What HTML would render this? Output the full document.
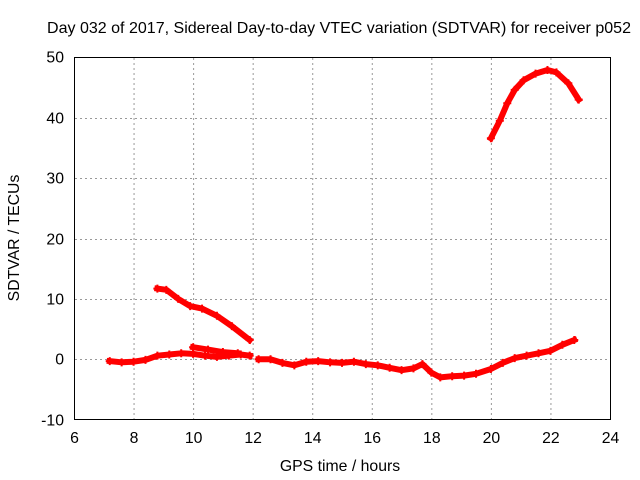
<!DOCTYPE html>
<html><head><meta charset="utf-8"><style>
body{margin:0;background:#fff}
svg{display:block;font-family:"Liberation Sans",sans-serif;font-size:15.8px}
</style></head><body>
<svg id="chart" width="640" height="480" viewBox="0 0 640 480">
<rect width="640" height="480" fill="#fff"/>
<g id="grid"></g>
<g id="series"></g>
<rect x="74.5" y="57.5" width="536" height="362" fill="none" stroke="#000" stroke-width="1"/>
<g id="ticks"></g>
<text x="339" y="33" text-anchor="middle" textLength="584" lengthAdjust="spacingAndGlyphs">Day 032 of 2017, Sidereal Day-to-day VTEC variation (SDTVAR) for receiver p052</text>
<text x="340" y="471" text-anchor="middle">GPS time / hours</text>
<text transform="translate(19,238) rotate(-90)" text-anchor="middle">SDTVAR / TECUs</text>
</svg>
<script>
const xTicks=[6,8,10,12,14,16,18,20,22,24];
const yTicks=[-10,0,10,20,30,40,50];
const lowHours=[7.2,7.6,8.0,8.4,8.8,9.2,9.6,10.0,10.4,10.8,11.2,11.6,11.9];
const lowValues=[-0.3,-0.5,-0.4,-0.1,0.6,0.8,1.0,0.9,0.6,0.4,0.6,0.8,0.6];
const low2Hours=[12.2,12.6,13.0,13.4,13.8,14.2,14.6,15.0,15.4,15.8,16.2,16.6,17.0,17.4,17.7,18.0,18.3,18.7,19.1,19.5,20.0,20.4,20.8,21.2,21.6,22.0,22.4,22.8];
const low2Values=[0.0,0.0,-0.6,-1.0,-0.4,-0.3,-0.5,-0.6,-0.4,-0.8,-1.0,-1.4,-1.8,-1.5,-0.8,-2.2,-3.0,-2.8,-2.7,-2.4,-1.6,-0.6,0.2,0.6,1.0,1.4,2.4,3.2];
const sideHours=[10.0,10.5,11.0,11.5];
const sideValues=[2.0,1.6,1.2,1.0];
const midHours=[8.8,9.1,9.5,9.9,10.3,10.8,11.3,11.9];
const midValues=[11.7,11.5,10.0,8.8,8.4,7.2,5.5,3.2];
const highHours=[20.0,20.3,20.55,20.8,21.1,21.5,21.9,22.2,22.6,22.95];
const highValues=[36.6,39.5,42.4,44.6,46.2,47.3,47.9,47.5,45.7,43.0];
const NS="http://www.w3.org/2000/svg";
function xs(h){return 74+(h-6)*(536/18);}
function ys(v){return 359.3-v*6.04;}
const grid=document.getElementById('grid'),ticks=document.getElementById('ticks'),ser=document.getElementById('series');
function mk(tag,attrs,parent){const e=document.createElementNS(NS,tag);for(const k in attrs)e.setAttribute(k,attrs[k]);parent.appendChild(e);return e;}
xTicks.forEach(t=>{const x=xs(t)+0.5;
 if(t>6&&t<24){const g=mk('line',{x1:x,x2:x,y1:58,y2:419,stroke:'#999','stroke-dasharray':'2,3'},grid);
 
 }
 const tl=mk('text',{x:x,y:443,'text-anchor':'middle'},ticks);tl.textContent=t;
 
 
});
yTicks.forEach(t=>{const y=Math.round(ys(t))+0.5;
 if(t>-10&&t<50){const g=mk('line',{x1:75,x2:610,y1:y,y2:y,stroke:'#999','stroke-dasharray':'2,3'},grid);
 
 }
 const tl=mk('text',{x:64,y:y+5,'text-anchor':'end'},ticks);tl.textContent=t;
 
 
});
function draw(hs,vs,name){
 const pts=hs.map((h,i)=>xs(h).toFixed(1)+','+ys(vs[i]).toFixed(1)).join(' ');
 const p=mk('polyline',{points:pts,fill:'none',stroke:'#f00','stroke-width':6,'stroke-linejoin':'round','stroke-linecap':'square'},ser);
 
 
 hs.forEach((h,i)=>{const x=xs(h),y=ys(vs[i]);
  const m=mk('path',{d:`M${x-4},${y}H${x+4}M${x},${y-4}V${y+4}`,stroke:'#f00','stroke-width':2},ser);
  
  });
}
draw(lowHours,lowValues,'series-low-morning');
draw(low2Hours,low2Values,'series-low-afternoon');
draw(sideHours,sideValues,'series-low-side');
draw(midHours,midValues,'series-mid');
draw(highHours,highValues,'series-high');
</script>
</body></html>
